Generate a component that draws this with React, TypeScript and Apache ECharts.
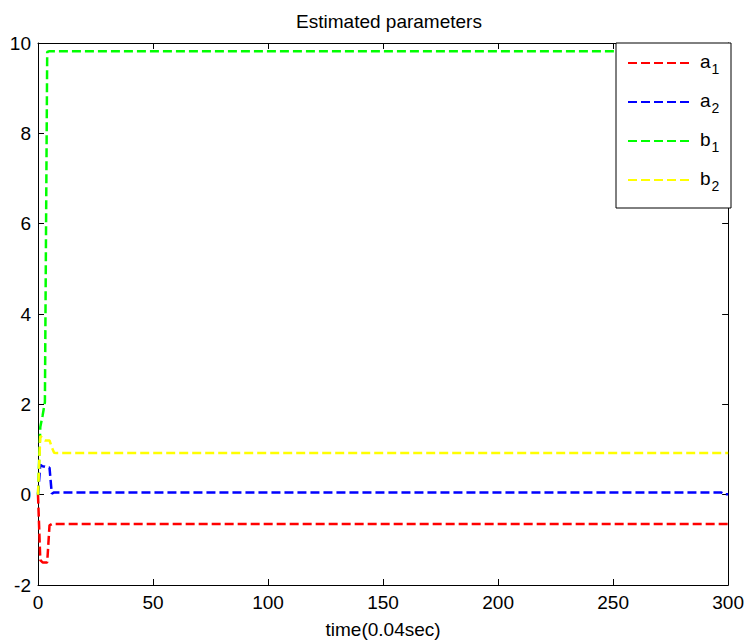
import React, { useEffect, useRef } from "react";
import * as echarts from "echarts";

const times = [0, 1, 2, 3, 4, 5, 6, 7, 8, 297, 298, 300];
const a1 = [0, -1.45, -1.5, -1.5, -1.5, -0.68, -0.65, -0.65, -0.65, -0.65, -0.65, -0.65];
const a2 = [0, 0.66, 0.63, 0.62, 0.6, 0.6, 0.02, 0.05, 0.05, 0.05, 0.01, 0.01];
const b1 = [0, 1.5, 1.75, 2.05, 9.8, 9.82, 9.82, 9.82, 9.82, 9.82, 9.82, 9.82];
const b2 = [0, 1.3, 1.25, 1.2, 1.2, 1.2, 1.05, 0.93, 0.92, 0.92, 0.92, 0.92];
const seriesNames = ["a1", "a2", "b1", "b2"];
const seriesColors = ["#ff0000", "#0000ff", "#00ff00", "#ffff00"];
const xTicks = { min: 0, max: 300, interval: 50 };
const yTicks = { min: -2, max: 10, interval: 2 };

const FONT = "'Liberation Sans', Arial, sans-serif";

export default function App() {
  const ref = useRef<HTMLDivElement>(null);
  useEffect(() => {
    if (!ref.current) return;
    const chart = echarts.init(ref.current, null, { renderer: "svg" });
    const values = [a1, a2, b1, b2];
    const axisCommon = {
      axisLine: { show: true, onZero: false, lineStyle: { color: "#000", width: 1 } },
      axisTick: { show: true, inside: true, length: 6, lineStyle: { color: "#000" } },
      splitLine: { show: false },
    };
    chart.setOption({
      animation: false,
      backgroundColor: "#fff",
      textStyle: { fontFamily: FONT },
      title: {
        text: "Estimated parameters",
        left: 384,
        textAlign: "center",
        top: 7,
        textStyle: { fontSize: 19, fontWeight: "normal", color: "#000", fontFamily: FONT },
      },
      grid: { left: 38, right: 16, top: 43, bottom: 55, containLabel: false },
      xAxis: [
        {
          type: "value",
          ...xTicks,
          ...axisCommon,
          name: "time(0.04sec)",
          nameLocation: "middle",
          nameGap: 35,
          nameTextStyle: { fontSize: 19, color: "#000", fontFamily: FONT },
          axisLabel: { fontSize: 19, color: "#000", margin: 8, fontFamily: FONT },
        },
        {
          type: "value",
          position: "top",
          ...xTicks,
          ...axisCommon,
          axisLabel: { show: false },
        },
      ],
      yAxis: [
        {
          type: "value",
          ...yTicks,
          ...axisCommon,
          axisLabel: { fontSize: 19, color: "#000", margin: 7, fontFamily: FONT },
        },
        {
          type: "value",
          position: "right",
          ...yTicks,
          ...axisCommon,
          axisLabel: { show: false },
        },
      ],
      legend: {
        orient: "vertical",
        left: 627,
        top: 52,
        padding: 0,
        itemWidth: 61,
        itemHeight: 14,
        itemGap: 15,
        data: seriesNames,
        itemStyle: { color: "rgba(0,0,0,0)", borderColor: "rgba(0,0,0,0)", borderWidth: 0 },
        formatter: (name: string) => `{m|${name[0]}}{s|${name[1]}}`,
        textStyle: {
          color: "#000",
          rich: {
            m: { fontSize: 19, fontFamily: FONT, color: "#000", padding: [0, 0, 0, 6], verticalAlign: "top", lineHeight: 22 },
            s: { fontSize: 14, fontFamily: FONT, color: "#000", padding: [10, 0, 0, 1], verticalAlign: "top", lineHeight: 16 },
          },
        },
      },
      graphic: [
        {
          type: "rect",
          z: 3,
          shape: { x: 616, y: 43, width: 115, height: 165 },
          style: { fill: "#fff", stroke: "#000", lineWidth: 1 },
        },
      ],
      series: seriesNames.map((n, i) => ({
        name: n,
        type: "line",
        data: times.map((t, j) => [t, values[i][j]]),
        showSymbol: false,
        symbol: "none",
        color: seriesColors[i],
        lineStyle: { color: seriesColors[i], width: 2.5, type: [9, 4] },
        z: 2,
      })),
    });
    return () => chart.dispose();
  }, []);
  return <div ref={ref} style={{ width: 747, height: 644, position: "absolute", left: 0, top: 0 }} />;
}
